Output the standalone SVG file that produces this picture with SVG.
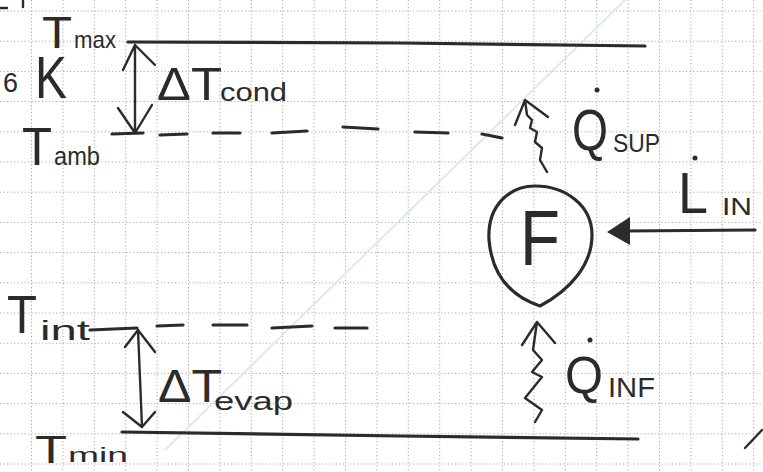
<svg xmlns="http://www.w3.org/2000/svg" width="763" height="472" viewBox="0 0 763 472">
<style>
.grid{stroke:#a8a8a8;stroke-width:1;stroke-dasharray:1.2 2.3;fill:none}
.pen{stroke:#2b2b2b;stroke-width:3.2;fill:none;stroke-linecap:round;stroke-linejoin:round}
.thin{stroke:#2b2b2b;stroke-width:2.4;fill:none;stroke-linecap:round;stroke-linejoin:round}
.t{font-family:"Liberation Sans",Arial,sans-serif;fill:#2b2b2b}
.dot{fill:#2b2b2b}
</style>
<rect width="763" height="472" fill="#ffffff"/>
<g id="grid">
<path class="grid" d="M31.5 0V472M62.9 0V472M94.3 0V472M125.7 0V472M157.1 0V472M188.5 0V472M219.9 0V472M251.3 0V472M282.7 0V472M314.1 0V472M345.5 0V472M376.9 0V472M408.3 0V472M439.7 0V472M471.1 0V472M502.5 0V472M533.9 0V472M565.3 0V472M596.7 0V472M628.1 0V472M659.5 0V472M690.9 0V472M722.3 0V472M753.7 0V472"/>
<path class="grid" d="M0 11H763M0 41.2H763M0 71.4H763M0 101.6H763M0 131.8H763M0 162H763M0 192.2H763M0 222.4H763M0 252.6H763M0 282.8H763M0 313H763M0 343.2H763M0 373.4H763M0 403.6H763M0 433.8H763M0 464H763"/>
</g>
<g id="watermark">
<path d="M625 0L165 450" stroke="#dde8f5" stroke-width="2" fill="none"/>
</g>
<g id="marks">
<path class="thin" d="M0 8L7 8M23 0L23 7M745 448L762 430"/>
</g>
<g id="connectors">
<path id="line-tmax" class="pen" d="M128 42L400 43L645 46"/>
<path id="line-tamb" class="pen" d="M112 134L143 133M160 135L187 134M213 133L240 133M272 133L307 131M343 127L378 129M415 132L448 133M482 134L502 138"/>
<path id="line-tint" class="pen" d="M90 330L137 328M157 326L183 325M213 325L247 325M272 328L312 326M335 328L367 328"/>
<path id="line-tmin" class="pen" d="M122 432L400 436L638 439"/>
<path id="arrow-cond" class="thin" d="M135 45L135 133M123 70L135 45L155 65M118 108L135 133L152 105"/>
<path id="arrow-evap" class="thin" d="M138 330L142 427M125 347L138 330L155 352M123 412L142 427L155 412"/>
<path id="arrow-qsup" class="thin" d="M547 172L540 160L542 148L535 142L537 132L530 128L532 120L527 115L525 100M515 125L525 100L548 117"/>
<path id="arrow-qinf" class="thin" d="M535 422L542 410L525 398L542 377L532 372L542 360L533 350L537 322M522 345L537 322L555 343"/>
<g id="arrow-lin">
<path class="pen" d="M755 230L625 231"/>
<polygon points="607,232 630,217 630,245" fill="#2b2b2b"/>
</g>
</g>
<g id="label-tmax">
<text class="t" x="42" y="48" font-size="44" textLength="30" lengthAdjust="spacingAndGlyphs">T</text>
<text class="t" x="74" y="48" font-size="24" textLength="42" lengthAdjust="spacingAndGlyphs">max</text>
</g>
<g id="label-6k">
<text class="t" x="3" y="92" font-size="28" textLength="15" lengthAdjust="spacingAndGlyphs">6</text>
<text class="t" x="35" y="98" font-size="60" textLength="32" lengthAdjust="spacingAndGlyphs">K</text>
</g>
<g id="label-dtcond">
<text class="t" x="157" y="100" font-size="46" textLength="65" lengthAdjust="spacingAndGlyphs">ΔT</text>
<text class="t" x="220" y="101" font-size="26" textLength="67" lengthAdjust="spacingAndGlyphs">cond</text>
</g>
<g id="label-tamb">
<text class="t" x="22" y="165" font-size="54" textLength="30" lengthAdjust="spacingAndGlyphs">T</text>
<text class="t" x="54" y="165" font-size="26" textLength="46" lengthAdjust="spacingAndGlyphs">amb</text>
</g>
<g id="label-qsup">
<circle class="dot" cx="597" cy="90" r="2.5"/>
<text class="t" x="572" y="150" font-size="58" textLength="36" lengthAdjust="spacingAndGlyphs">Q</text>
<text class="t" x="613" y="152" font-size="26" textLength="47" lengthAdjust="spacingAndGlyphs">SUP</text>
</g>
<g id="node-f">
<path class="pen" d="M540 306C510 296 492 275 489 240C487 205 510 186 535 186C565 186 592 205 592 235C592 265 570 290 540 306Z"/>
<text class="t" x="520" y="265" font-size="78" textLength="40" lengthAdjust="spacingAndGlyphs">F</text>
</g>
<g id="label-lin">
<circle class="dot" cx="695" cy="158" r="2.5"/>
<text class="t" x="678" y="213" font-size="58" textLength="30" lengthAdjust="spacingAndGlyphs">L</text>
<text class="t" x="722" y="215" font-size="24" textLength="30" lengthAdjust="spacingAndGlyphs">IN</text>
</g>
<g id="label-tint">
<text class="t" x="7" y="333" font-size="54" textLength="30" lengthAdjust="spacingAndGlyphs">T</text>
<text class="t" x="40" y="340" font-size="28" textLength="50" lengthAdjust="spacingAndGlyphs">int</text>
</g>
<g id="label-dtevap">
<text class="t" x="158" y="402" font-size="46" textLength="64" lengthAdjust="spacingAndGlyphs">ΔT</text>
<text class="t" x="214" y="410" font-size="26" textLength="79" lengthAdjust="spacingAndGlyphs">evap</text>
</g>
<g id="label-qinf">
<circle class="dot" cx="590" cy="340" r="2.5"/>
<text class="t" x="565" y="393" font-size="52" textLength="38" lengthAdjust="spacingAndGlyphs">Q</text>
<text class="t" x="608" y="397" font-size="28" textLength="47" lengthAdjust="spacingAndGlyphs">INF</text>
</g>
<g id="label-tmin">
<text class="t" x="35" y="463" font-size="38" textLength="32" lengthAdjust="spacingAndGlyphs">T</text>
<text class="t" x="68" y="462" font-size="20" textLength="60" lengthAdjust="spacingAndGlyphs">min</text>
</g>
</svg>
